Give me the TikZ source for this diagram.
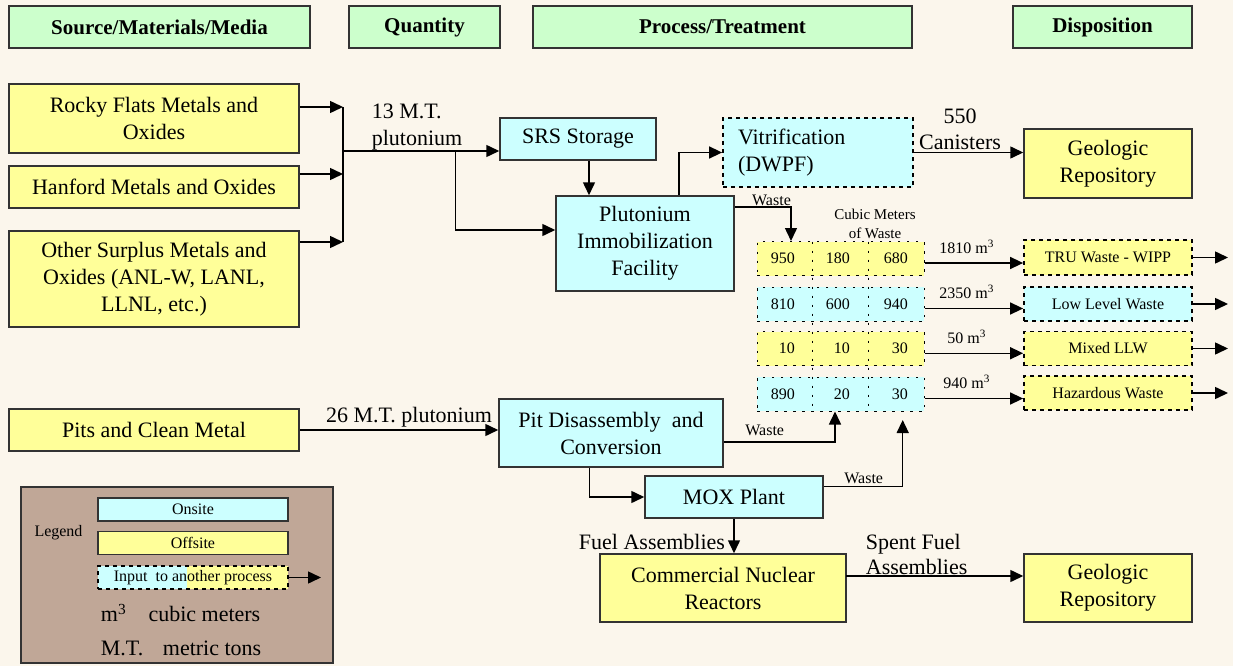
\documentclass[tikz,border=0pt]{standalone}
\usepackage{fontspec}
\setmainfont{Liberation Serif}
\usetikzlibrary{arrows.meta,calc}
\definecolor{bgc}{HTML}{FBF6EC}
\definecolor{yel}{HTML}{FFFF99}
\definecolor{cyn}{HTML}{CCFFFF}
\definecolor{grn}{HTML}{CCFFCC}
\definecolor{brn}{HTML}{C0A797}
\definecolor{edge}{HTML}{333333}
\newcommand\fsMain{\fontsize{22}{27}\selectfont}
\newcommand\fsHead{\fontsize{21}{25}\selectfont\bfseries}
\newcommand\fsSmall{\fontsize{16}{19}\selectfont}
\newcommand\fsCube{\fontsize{15}{19}\selectfont}
\begin{document}
\begin{tikzpicture}[x=1pt,y=-1pt,
 every node/.style={font=\fsMain, inner sep=0pt, text=black},
 box/.style={draw=edge, line width=1.5pt, align=center},
 ybox/.style={box, fill=yel},
 cbox/.style={box, fill=cyn},
 hbox/.style={box, fill=grn, font=\fsHead},
 dbox/.style={draw=black, line width=1.8pt, dash pattern=on 4pt off 4pt, align=center, font=\fsSmall},
 arr/.style={draw=black, line width=1.5pt, -{Triangle[length=13pt,width=12pt]}},
 ln/.style={draw=black, line width=1.5pt},
 trow/.style={draw=black, line width=1pt, dash pattern=on 2.5pt off 6.5pt},
 num/.style={font=\fsSmall, anchor=east},
 lab/.style={font=\fsSmall},
]
\fill[bgc] (0,0) rectangle (1233,666);
\useasboundingbox (0,0) rectangle (1233,666);

% headers
\node[hbox, minimum width=301pt, minimum height=42pt] (h1) at (159.5,27) {Source/Materials/Media};
\node[hbox, minimum width=151pt, minimum height=42pt] (h2) at (424.5,27) {Quantity};
\node[hbox, minimum width=379pt, minimum height=42pt] (h3) at (722.5,27) {Process/Treatment};
\node[hbox, minimum width=179pt, minimum height=42pt] (h4) at (1102.5,27) {Disposition};

% sources
\node[ybox, minimum width=290pt, minimum height=69pt] (rocky) at (154,118.5) {Rocky Flats Metals and\\Oxides};
\node[ybox, minimum width=290pt, minimum height=42pt] (hanf) at (154,187) {Hanford Metals and Oxides};
\node[ybox, minimum width=290pt, minimum height=96pt] (other) at (154,279) {Other Surplus Metals and\\Oxides (ANL-W, LANL,\\LLNL, etc.)};
\node[ybox, minimum width=290pt, minimum height=42pt] (pits) at (154,430) {Pits and Clean Metal};

% bus
\coordinate (j1) at (343,107);
\coordinate (j2) at (343,174);
\coordinate (j3) at (343,242);
\coordinate (jm) at (343,151);
\coordinate (jb) at (455.7,151);
\draw[arr] (rocky.east |- j1) -- (j1);
\draw[arr] (hanf.east |- j2) -- (j2);
\draw[arr] (other.east |- j3) -- (j3);
\draw[ln] (j1) -- (j3);
\node (q13) at (417,127) [align=left] {13 M.T.\\plutonium};

% process
\node[cbox, minimum width=156pt, minimum height=42pt] (srs) at (578,139) {SRS Storage};
\node[cbox, minimum width=178pt, minimum height=95pt] (pif) at (645,243.5) {Plutonium\\Immobilization\\Facility};
\node[dbox, fill=cyn, font=\fsMain, align=left, text width=160pt, inner xsep=15pt, minimum height=69pt] (vit) at (818,152.5) {Vitrification\\(DWPF)};
\node[ybox, minimum width=168pt, minimum height=69pt] (geo1) at (1108,163.5) {Geologic\\Repository};

\draw[arr] (jm) -- (jm -| srs.west);
\coordinate (jc) at (455.7,230);
\draw[arr] (jb) |- (pif.west |- jc);
\coordinate (sx) at (589,0);
\draw[arr] (srs.south -| sx) -- (pif.north -| sx);
\coordinate (vx) at (679,0);
\draw[arr] (pif.north -| vx) |- (vit.west);
\draw[arr] (vit.east) -- (vit.east -| geo1.west);
\node[align=center] (can) at (960,129) {550\\[-1pt]Canisters};

% table
\node[trow, fill=yel, minimum width=167pt, minimum height=34pt] (R1) at (840.5,258.5) {};
\node[trow, fill=cyn, minimum width=167pt, minimum height=34pt] (R2) at (840.5,304) {};
\node[trow, fill=yel, minimum width=167pt, minimum height=34pt] (R3) at (840.5,348.75) {};
\node[trow, fill=cyn, minimum width=167pt, minimum height=34pt] (R4) at (840.5,394) {};
\draw[trow] (812,241.5) -- (812,411.5);
\draw[trow] (868,241.5) -- (868,411.5);
\node[num] (n11) at (795,258.5) {950};
\node[num] (n12) at (850,258.5) {180};
\node[num] (n13) at (908,258.5) {680};
\node[num] (n21) at (795,304) {810};
\node[num] (n22) at (850,304) {600};
\node[num] (n23) at (908,304) {940};
\node[num] (n31) at (795,348.75) {10};
\node[num] (n32) at (850,348.75) {10};
\node[num] (n33) at (908,348.75) {30};
\node[num] (n41) at (795,394) {890};
\node[num] (n42) at (850,394) {20};
\node[num] (n43) at (908,394) {30};
\node[font=\fsCube, align=center] (cub) at (875,224) {Cubic Meters\\of Waste};

\coordinate (w1) at (791,207);
\draw[arr] (pif.east |- w1) -- (w1) -- (w1 |- R1.north);
\node[lab] (wl1) at (771.5,200) {Waste};

% disposition boxes
\node[dbox, fill=yel, minimum width=168pt, minimum height=35pt] (tru) at (1108,257.5) {TRU Waste - WIPP};
\node[dbox, fill=cyn, minimum width=168pt, minimum height=34pt] (llw) at (1108,304) {Low Level Waste};
\node[dbox, fill=yel, minimum width=168pt, minimum height=34pt] (mix) at (1108,348.5) {Mixed LLW};
\node[dbox, fill=yel, minimum width=168pt, minimum height=34pt] (haz) at (1108,393) {Hazardous Waste};
\draw[arr] ([yshift=-4.5pt]R1.east) -- ([yshift=-4.5pt]R1.east -| tru.west);
\draw[arr] ([yshift=-4.5pt]R2.east) -- ([yshift=-4.5pt]R2.east -| llw.west);
\draw[arr] ([yshift=-4.5pt]R3.east) -- ([yshift=-4.5pt]R3.east -| mix.west);
\draw[arr] ([yshift=-4.5pt]R4.east) -- ([yshift=-4.5pt]R4.east -| haz.west);
\node[lab] (l1) at (966.7,247) {1810 m\textsuperscript{3}};
\node[lab] (l2) at (966.7,292) {2350 m\textsuperscript{3}};
\node[lab] (l3) at (966.7,337) {50 m\textsuperscript{3}};
\node[lab] (l4) at (966.7,382) {940 m\textsuperscript{3}};
\coordinate (oe) at (1228,0);
\draw[arr] (tru.east) -- (tru.east -| oe);
\draw[arr] (llw.east) -- (llw.east -| oe);
\draw[arr] (mix.east) -- (mix.east -| oe);
\draw[arr] (haz.east) -- (haz.east -| oe);

% lower part
\node[cbox, minimum width=224pt, minimum height=68pt] (pit) at (611,433) {Pit Disassembly\ \ and\\Conversion};
\draw[arr] (pits.east) -- (pits.east -| pit.west);
\node (q26) at (409,417) {26 M.T. plutonium};
\coordinate (w2) at (835,442);
\draw[arr] (pit.east |- w2) -| (w2 |- R4.south);
\node[lab] (wl2) at (764.7,430) {Waste};

\node[cbox, minimum width=178pt, minimum height=42pt] (mox) at (734,497) {MOX Plant};
\coordinate (mx) at (589.5,0);
\draw[arr] (pit.south -| mx) |- (mox.west);
\coordinate (w3) at (902.7,486.7);
\coordinate (w3t) at (902.7,420);
\draw[arr] (mox.east |- w3) -| (w3t);
\node[lab] (wl3) at (863.7,478.3) {Waste};

\node[ybox, minimum width=246pt, minimum height=68pt] (cnr) at (723,588) {Commercial Nuclear\\Reactors};
\draw[arr] (mox.south) -- (mox.south |- cnr.north);
\node (fa) at (652,542) {Fuel Assemblies};
\node[ybox, minimum width=168pt, minimum height=68pt] (geo2) at (1108,588) {Geologic\\Repository};
\coordinate (s1) at (846,576);
\draw[arr] (s1) -- (s1 -| geo2.west);
\node[anchor=west, align=left] (sfa) at (865.7,554) {Spent Fuel\\[-2pt]Assemblies};

% legend
\node[draw=edge, line width=1.2pt, fill=brn, minimum width=312pt, minimum height=176pt] (leg) at (177,575) {};
\node[font=\fsSmall] (legt) at (58.5,532.7) {Legend};
\node[cbox, font=\fsSmall, minimum width=190pt, minimum height=23pt] (ons) at (193,509.5) {Onsite};
\node[ybox, font=\fsSmall, minimum width=190pt, minimum height=23pt] (offs) at (193,543) {Offsite};
\fill[yel] (98,566) rectangle (288,589);
\fill[cyn] (98,566) rectangle (187,589);
\node[dbox, line width=1.5pt, minimum width=190pt, minimum height=23pt] (inp) at (193,577.5) {Input\ \ to another process};
\coordinate (le) at (321,0);
\draw[arr] (inp.east) -- (inp.east -| le);
\node[anchor=base west] (m3) at (100.7,621.7) {m\textsuperscript{3}};
\node[anchor=base west] (m3t) at (148.3,621.7) {cubic meters};
\node[anchor=base west] (mt) at (100.7,655.7) {M.T.};
\node[anchor=base west] (mtt) at (162.7,655.7) {metric tons};
\end{tikzpicture}
\end{document}
